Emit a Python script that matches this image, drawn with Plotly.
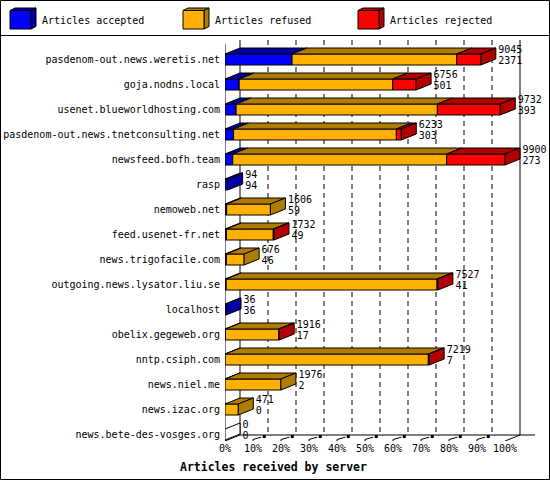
import plotly.graph_objects as go

servers = [
    "pasdenom-out.news.weretis.net", "goja.nodns.local", "usenet.blueworldhosting.com",
    "pasdenom-out.news.tnetconsulting.net", "newsfeed.bofh.team", "rasp", "nemoweb.net",
    "feed.usenet-fr.net", "news.trigofacile.com", "outgoing.news.lysator.liu.se",
    "localhost", "obelix.gegeweb.org", "nntp.csiph.com", "news.niel.me",
    "news.izac.org", "news.bete-des-vosges.org",
]
offered = [9045, 6756, 9732, 6233, 9900, 94, 1606, 1732, 676, 7527, 36, 1916, 7219, 1976, 471, 0]
accepted = [2371, 501, 393, 303, 273, 94, 59, 49, 46, 41, 36, 17, 7, 2, 0, 0]
refused = [5821, 5429, 7115, 5755, 7565, 0, 1547, 1658, 630, 7456, 0, 1884, 7182, 1974, 471, 0]
rejected = [853, 826, 2224, 175, 2062, 0, 0, 25, 0, 30, 0, 15, 30, 0, 0, 0]
series_names = ["Articles accepted", "Articles refused", "Articles rejected"]
tick_values = [0, 10, 20, 30, 40, 50, 60, 70, 80, 90, 100]
x_title = "Articles received by server"

FRONT = ["#0000ff", "#ffb000", "#ff0000"]
DARK = ["#0000a0", "#b07c00", "#b00000"]
FONT = "DejaVu Sans Mono"

# layout geometry (pixels)
PL, PT, PW, PH = 225, 40, 310, 401
PX_PER_PCT = 2.8
ROW = 25.0
Y0 = 59.5  # pixel centre of first row
DXP = 15 / PX_PER_PCT     # depth in x (percent units)
DYP = 6 / ROW             # depth in y (row units)
HALF = 5.5 / ROW          # half front height
TXT_PAD = 2.5 / PX_PER_PCT

xmax = PW / PX_PER_PCT
ytop = (PT - Y0) / ROW
ybot = (PT + PH - Y0) / ROW
yback_floor = ybot - DYP

mx = max(offered)
pct = lambda v: v / mx * 100.0
segs = [[pct(v) for v in accepted], [pct(v) for v in refused], [pct(v) for v in rejected]]
n = len(servers)
rows = list(range(n))

fig = go.Figure()

# back wall gridlines (dashed)
gx, gy = [], []
for t in tick_values[1:-1]:
    gx += [t + DXP, t + DXP, None]
    gy += [ytop, yback_floor, None]
fig.add_trace(go.Scatter(x=gx, y=gy, mode="lines", line=dict(color="black", width=1, dash="5px,4px"),
                         hoverinfo="skip", showlegend=False, cliponaxis=False))
# box lines
bx = [0, 0, None, DXP, DXP, None, 100 + DXP, 100 + DXP, None,
      -DXP, DXP, None, DXP, xmax, None, 100, 100 + DXP, None]
by = [ytop + 0.16, ybot, None, ytop, yback_floor, None, ytop, yback_floor, None,
      ybot + DYP, yback_floor, None, yback_floor, yback_floor, None, ybot, yback_floor, None]
fig.add_trace(go.Scatter(x=bx, y=by, mode="lines", line=dict(color="black", width=1),
                         hoverinfo="skip", showlegend=False, cliponaxis=False))
# floor tick stubs
sx, sy, mxs, mys = [], [], [], []
for t in tick_values[1:-1]:
    sx += [t, t, t + 0.55 * DXP, None]
    sy += [ybot + 0.04, ybot - 0.06, ybot - 0.55 * DYP - 0.02, None]
    mxs.append(t + 0.75 * DXP)
    mys.append(ybot - 0.75 * DYP)
fig.add_trace(go.Scatter(x=sx, y=sy, mode="lines", line=dict(color="black", width=1),
                         hoverinfo="skip", showlegend=False, cliponaxis=False))
fig.add_trace(go.Scatter(x=mxs, y=mys, mode="markers", marker=dict(symbol="square", size=3, color="black"),
                         hoverinfo="skip", showlegend=False, cliponaxis=False))

# front and top faces, segment by segment
base = [0.0] * n
for k in range(3):
    fx, fy, tx, ty = [], [], [], []
    for i in rows:
        v = segs[k][i]
        if v > 0:
            x0, x1 = base[i], base[i] + v
            yt, yb = i - HALF, i + HALF
            fx += [x0, x1, x1, x0, x0, None]
            fy += [yt, yt, yb, yb, yt, None]
            tx += [x0, x1, x1 + DXP, x0 + DXP, x0, None]
            ty += [yt, yt, yt - DYP, yt - DYP, yt, None]
    fig.add_trace(go.Scatter(x=fx, y=fy, mode="lines", fill="toself", fillcolor=FRONT[k],
                             line=dict(color="black", width=1), hoverinfo="skip",
                             showlegend=False, cliponaxis=False))
    fig.add_trace(go.Scatter(x=tx, y=ty, mode="lines", fill="toself", fillcolor=DARK[k],
                             line=dict(color="black", width=1), hoverinfo="skip",
                             showlegend=False, cliponaxis=False))
    base = [b + v for b, v in zip(base, segs[k])]

# side faces (last non-zero segment)
side = {0: ([], []), 1: ([], []), 2: ([], []), -1: ([], [])}
for i in rows:
    last = -1
    for k in range(3):
        if segs[k][i] > 0:
            last = k
    xe = segs[0][i] + segs[1][i] + segs[2][i]
    yt, yb = i - HALF, i + HALF
    side[last][0].extend([xe, xe + DXP, xe + DXP, xe, xe, None])
    side[last][1].extend([yt, yt - DYP, yb - DYP, yb, yt, None])
for k in [0, 1, 2, -1]:
    if side[k][0]:
        fig.add_trace(go.Scatter(x=side[k][0], y=side[k][1], mode="lines", fill="toself",
                                 fillcolor=DARK[k] if k >= 0 else "white",
                                 line=dict(color="black", width=1), hoverinfo="skip",
                                 showlegend=False, cliponaxis=False))

# value labels
tot = [a + b + c for a, b, c in zip(*segs)]
lx = [t + DXP + TXT_PAD for t in tot]
fig.add_trace(go.Scatter(x=lx, y=[i - 0.38 for i in rows], mode="text",
                         text=[str(v) for v in offered], textposition="middle right",
                         textfont=dict(family=FONT, size=10, color="black"),
                         hoverinfo="skip", showlegend=False, cliponaxis=False))
fig.add_trace(go.Scatter(x=lx, y=[i + 0.06 for i in rows], mode="text",
                         text=[str(v) for v in accepted], textposition="middle right",
                         textfont=dict(family=FONT, size=10, color="black"),
                         hoverinfo="skip", showlegend=False, cliponaxis=False))

def ppx(x):
    return (x - PL) / PW

def ppy(y):
    return (PT + PH - y) / PH

shapes = [
    dict(type="rect", xref="paper", yref="paper", x0=ppx(0.5), x1=ppx(549.5), y0=ppy(0.5), y1=ppy(479.5),
         line=dict(color="black", width=1), fillcolor="rgba(0,0,0,0)", layer="above"),
    dict(type="line", xref="paper", yref="paper", x0=ppx(0), x1=ppx(550), y0=ppy(35.5), y1=ppy(35.5),
         line=dict(color="black", width=1)),
]
annotations = []
leg_x = [10, 183, 358]
for k in range(3):
    x0 = leg_x[k]
    x1 = x0 + 21
    ya, yb_ = 10.5, 29
    d, e = 5, 2.5
    front = f"M{ppx(x0)},{ppy(ya)} L{ppx(x1)},{ppy(ya)} L{ppx(x1)},{ppy(yb_)} L{ppx(x0)},{ppy(yb_)} Z"
    top = f"M{ppx(x0)},{ppy(ya)} L{ppx(x0+d)},{ppy(ya-e)} L{ppx(x1+d)},{ppy(ya-e)} L{ppx(x1)},{ppy(ya)} Z"
    sd = f"M{ppx(x1)},{ppy(ya)} L{ppx(x1+d)},{ppy(ya-e)} L{ppx(x1+d)},{ppy(yb_-e)} L{ppx(x1)},{ppy(yb_)} Z"
    for path, col in [(top, DARK[k]), (sd, DARK[k]), (front, FRONT[k])]:
        shapes.append(dict(type="path", xref="paper", yref="paper", path=path, fillcolor=col,
                           line=dict(color="black", width=1)))
    annotations.append(dict(xref="paper", yref="paper", x=ppx(x0 + 30), y=ppy(20), xanchor="left",
                            yanchor="middle", text=series_names[k], showarrow=False,
                            font=dict(family=FONT, size=10, color="black")))
annotations.append(dict(xref="paper", yref="paper", x=ppx(273.5), y=ppy(467), xanchor="center",
                        yanchor="middle", text=f"<b>{x_title}</b>", showarrow=False,
                        font=dict(family=FONT, size=11.5, color="black")))

fig.update_layout(
    width=550, height=480,
    margin=dict(l=PL, r=550 - PL - PW, t=PT, b=480 - PT - PH, pad=0),
    paper_bgcolor="white", plot_bgcolor="white",
    showlegend=False,
    shapes=shapes, annotations=annotations,
    xaxis=dict(range=[0, xmax], tickvals=tick_values, ticktext=[f"{t}%" for t in tick_values],
               showgrid=False, zeroline=False, showline=False, ticks="", automargin=False,
               tickfont=dict(family=FONT, size=10, color="black"), fixedrange=True),
    yaxis=dict(range=[ybot, ytop], tickvals=rows, ticktext=servers, showgrid=False,
               zeroline=False, showline=False, ticks="", automargin=False, ticklabelstandoff=4,
               tickfont=dict(family=FONT, size=10, color="black"), fixedrange=True),
)

fig.write_html("out.html", config={"displayModeBar": False},
               post_script="document.body.style.margin='0px';document.body.style.padding='0px';")
